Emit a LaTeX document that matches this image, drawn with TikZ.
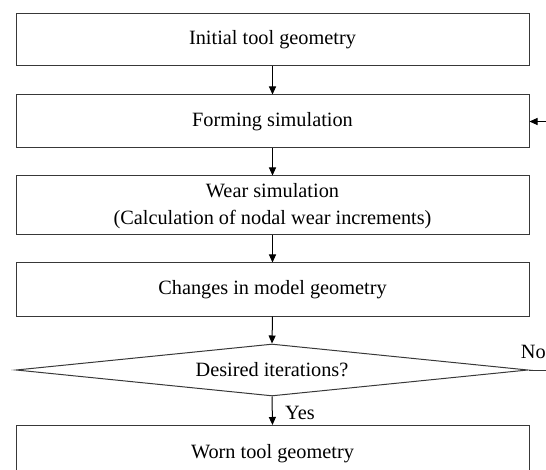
\documentclass[tikz,border=0pt]{standalone}
\usepackage{fontspec}
\setmainfont{Liberation Serif}
\usetikzlibrary{shapes.geometric,arrows.meta}
\tikzset{
  flowbox/.style={draw=black!78, line width=1pt, rectangle, minimum width=513pt, inner sep=0pt, align=center, font=\fontsize{20.3}{27}\selectfont},
  decision/.style={draw=black!78, line width=1pt, diamond, aspect=10, minimum width=512pt, minimum height=52pt, inner sep=0pt, font=\fontsize{20.3}{27}\selectfont},
  flowarrow/.style={draw=black, line width=1pt, -{Triangle[length=8pt,width=7pt]}},
  flowline/.style={draw=black!78, line width=1pt},
  lbl/.style={inner sep=0pt, font=\fontsize{20.3}{27}\selectfont}
}
\begin{document}
\begin{tikzpicture}[x=1pt,y=-1pt]
\useasboundingbox (0,0) rectangle (546,470);
\node[flowbox, minimum height=52pt] (b1) at (272.5,40) {\raisebox{-1pt}{Initial tool geometry}};
\node[flowbox, minimum height=53pt] (b2) at (272.5,121.5) {\raisebox{-1pt}{Forming simulation}};
\node[flowbox, minimum height=59pt] (b3) at (272.5,205.5) {\raisebox{-3.5pt}{\begin{tabular}{@{}c@{}}Wear simulation\\(Calculation of nodal wear increments)\end{tabular}}};
\node[flowbox, minimum height=53pt] (b4) at (272.5,289.5) {\raisebox{-1pt}{Changes in model geometry}};
\node[decision] (d) at (272,370) {\raisebox{-1pt}{Desired iterations?}};
\node[flowbox, minimum height=56pt, anchor=north] (b5) at (272.5,425) {\raisebox{-3pt}{Worn tool geometry}};
\coordinate (fb) at (547,121.5);
\coordinate (noend) at (547,370);
\draw[flowarrow] (b1.south) -- (b2.north);
\draw[flowarrow] (b2.south) -- (b3.north);
\draw[flowarrow] (b3.south) -- (b4.north);
\draw[flowarrow] (b4.south) -- (d.north);
\draw[flowarrow] (d.south) -- (b5.north);
\draw[flowarrow] (fb) -- (b2.east);
\draw[flowline] (d.east) -- (noend);
\node[lbl, anchor=east] (no) at (546,352) {No};
\node[lbl, anchor=west] (yes) at (285,413) {Yes};
\end{tikzpicture}
\end{document}
